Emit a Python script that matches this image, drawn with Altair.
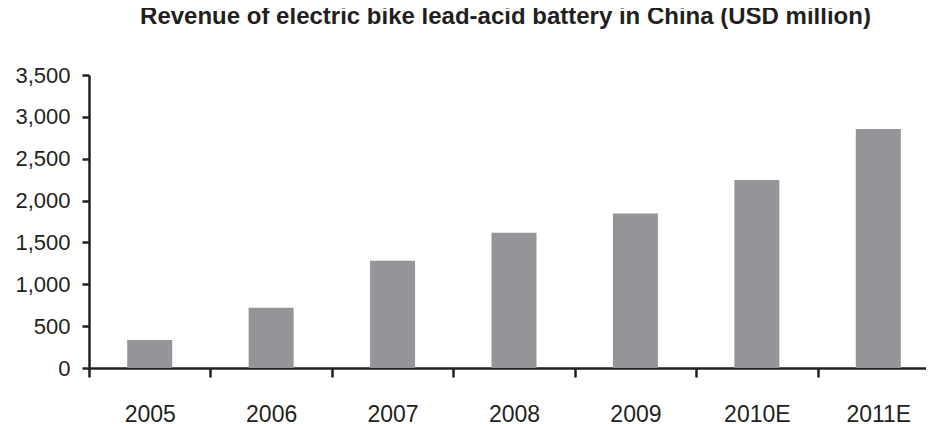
import altair as alt
import pandas as pd

years = ["2005", "2006", "2007", "2008", "2009", "2010E", "2011E"]
revenue = [335, 720, 1280, 1615, 1845, 2245, 2855]
y_ticks = [0, 500, 1000, 1500, 2000, 2500, 3000, 3500]

df = pd.DataFrame({"year": years, "revenue": revenue})

FONT = "Liberation Sans"
INK = "#231f20"

chart = alt.Chart(df).mark_bar(color="#939598", size=45).encode(
    x=alt.X("year:N", sort=years, title=None,
            scale=alt.Scale(paddingInner=0, paddingOuter=0, range=[0, 850]),
            axis=alt.Axis(labelAngle=0, tickBand="extent", tickSize=9,
                          labelPadding=26, domainWidth=2.5, tickWidth=2.5,
                          domainColor=INK, domainOpacity=1, tickColor=INK,
                          labelColor=INK, labelFont=FONT, labelFontSize=23,
                          grid=False)),
    y=alt.Y("revenue:Q", title=None,
            scale=alt.Scale(domain=[0, 3500], nice=False),
            axis=alt.Axis(values=y_ticks, format=",.0f", grid=False, tickSize=7,
                          labelPadding=12, domainWidth=2.5, tickWidth=2.5,
                          domainColor=INK, domainOpacity=1, tickColor=INK,
                          labelColor=INK, labelFont=FONT, labelFontSize=22)),
).properties(
    width=837,
    height=293,
    background="white",
    title=alt.TitleParams(
        "Revenue of electric bike lead-acid battery in China (USD million)",
        font=FONT, fontSize=24, fontWeight="bold", color=INK,
        anchor="middle", baseline="alphabetic", offset=16, dx=-2),
    autosize=alt.AutoSizeParams(type="none"),
    padding={"left": 81, "top": 67, "right": 0, "bottom": 56},
).configure_view(strokeWidth=0, stroke=None).configure_axis(grid=False)

chart.save("out.html", embed_options={"renderer": "svg", "actions": False})
